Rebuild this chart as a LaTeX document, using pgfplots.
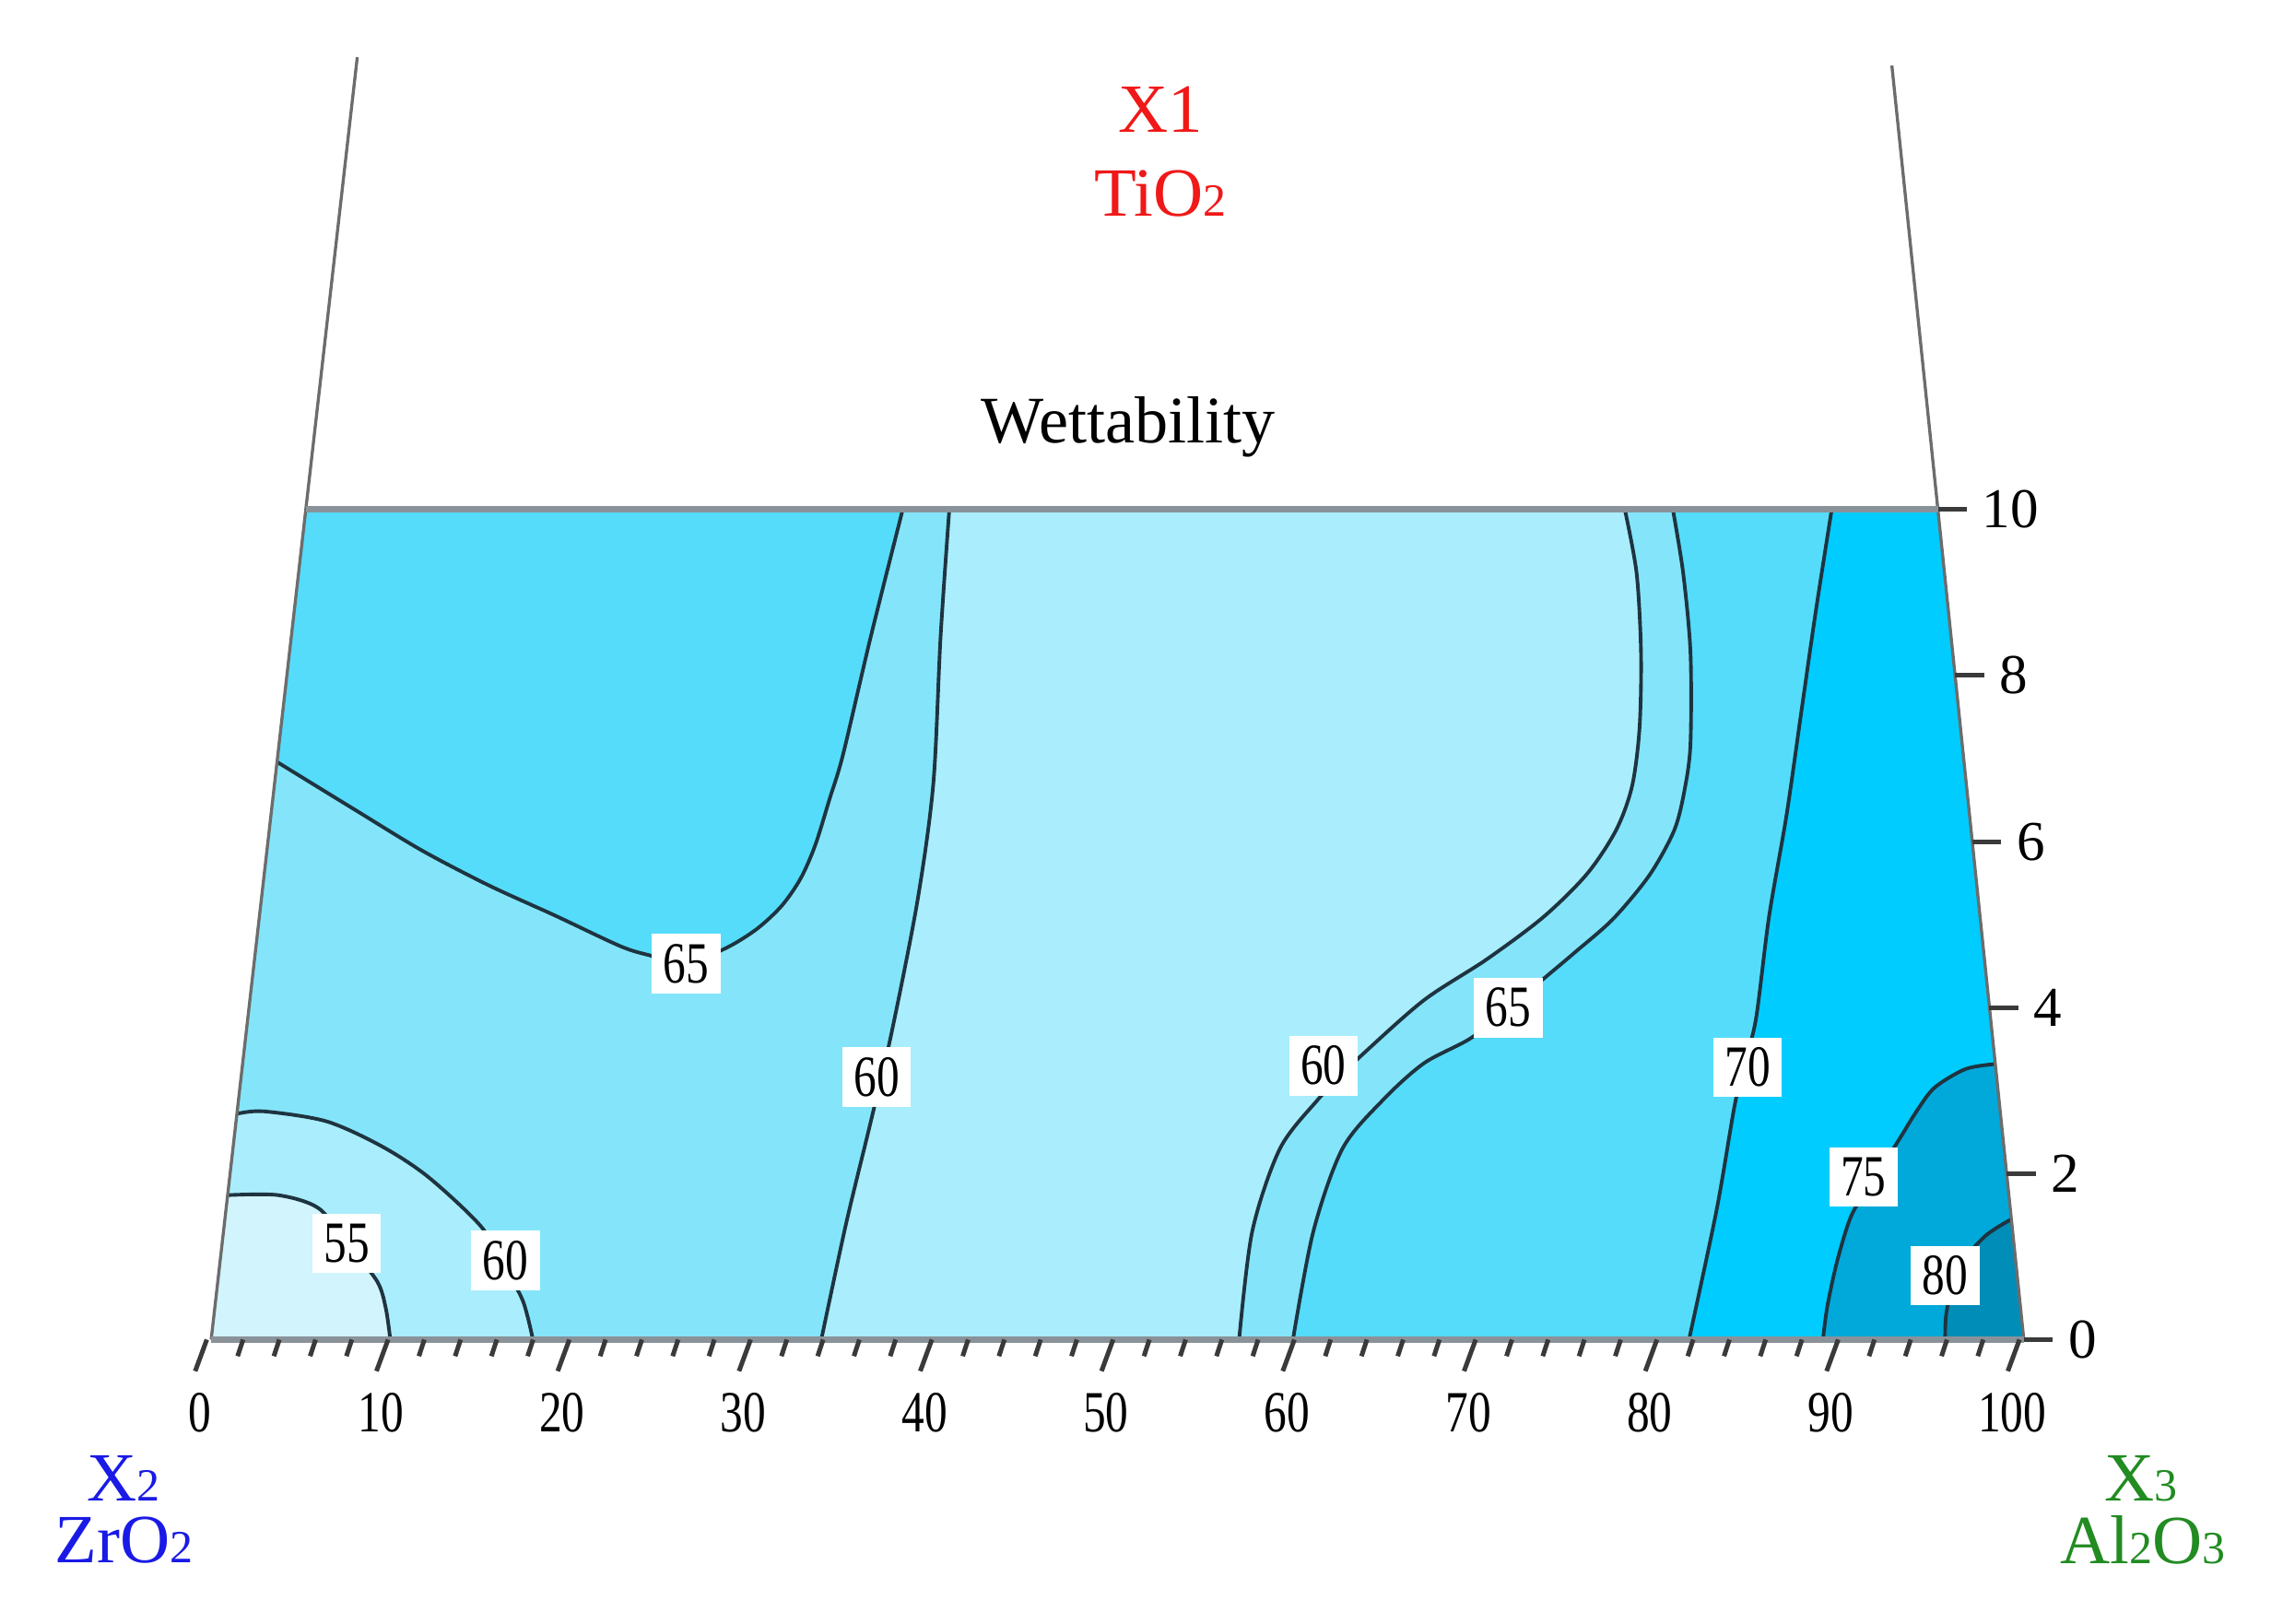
\documentclass[border=0pt]{standalone}
\usepackage{fontspec}
\setmainfont{Liberation Serif}
\newfontfamily\cond[FakeStretch=0.78]{Liberation Serif}
\usepackage{pgfplots}
\pgfplotsset{compat=1.18}

\definecolor{c50}{HTML}{D2F4FC}
\definecolor{c55}{HTML}{AAEDFC}
\definecolor{c60}{HTML}{84E5FA}
\definecolor{c65}{HTML}{55DCFB}
\definecolor{c70}{HTML}{00CCFF}
\definecolor{c75}{HTML}{00A9D9}
\definecolor{c80}{HTML}{008DB8}
\definecolor{cline}{HTML}{1E3440}
\definecolor{edge}{HTML}{8A9299}
\definecolor{tickc}{HTML}{3A3A3A}
\definecolor{xred}{HTML}{F01818}
\definecolor{xblue}{HTML}{1A1AE6}
\definecolor{xgreen}{HTML}{228B22}

\newcommand{\sub}[1]{{\fontsize{9}{9}\selectfont #1}}
\tikzset{
  lbl/.style={fill=white, inner xsep=0.8mm, inner ysep=0.7mm,
    font=\cond\fontsize{11.4}{12}\selectfont},
  rlbl/.style={anchor=west, inner sep=0pt, font=\fontsize{11}{12}\selectfont},
}

\begin{document}
\begin{tikzpicture}
\begin{axis}[
  width=15.68cm, height=11.15cm, scale only axis,
  xmin=-11.41, xmax=114.54, ymin=-3.42, ymax=16.14,
  enlargelimits=false, clip=false,
  axis line style={draw=none}, ticks=none,
  isoline/.style={draw=cline, line width=0.7pt, smooth, tension=0.5},
  zone/.style={draw=none, fill=#1},
]
% filled bands
\addplot[zone=c60] coordinates {(0.24,0) (5.46,10) (95.5,10) (100.24,0)};
\addplot[zone=c65] coordinates {
  (3.87,6.96) (5.46,10) (38.39,10) (36.63,8.47) (35.10,7.05) (34.38,6.53)
  (33.57,5.96) (32.77,5.56) (31.73,5.23) (30.36,4.95) (28.67,4.72)
  (26.43,4.53) (24.42,4.63) (22.81,4.74)
  (19.20,5.11) (15.58,5.47) (11.89,5.89) (8.27,6.37)};
\addplot[zone=c55] coordinates {
  (0.24,0) (1.66,2.72) (3.13,2.75) (6.59,2.63) (9.64,2.33) (12.21,1.96)
  (15.10,1.37) (16.3,0.92) (17.43,0.47) (17.99,0)};
\addplot[zone=c50] coordinates {
  (0.24,0) (1.15,1.74) (3.94,1.74) (6.18,1.58) (7.8,1.14) (9.40,0.70)
  (9.88,0.37) (10.12,0)};
\addplot[zone=c55] coordinates {
  (40.96,10) (40.48,8.47) (40.08,6.70) (39.20,5.28) (37.75,3.67)
  (36.6,2.60) (35.26,1.39) (33.90,0)
  (56.95,0) (57.67,1.30) (59.20,2.30) (61.29,2.89) (62.5,3.16) (63.78,3.44)
  (67.15,4.09) (70.60,4.58) (73.73,5.09) (76.14,5.61) (77.75,6.14) (78.63,6.67)
  (79.04,7.37) (79.12,8.28) (78.88,9.23) (78.23,10)};
\addplot[zone=c65] coordinates {
  (80.88,10) (81.45,9.23) (81.85,8.28) (81.85,7.18) (81.53,6.63) (80.96,6.14)
  (79.60,5.60) (77.59,5.07) (75.50,4.67) (73.98,4.39) (71.85,4.0) (69.72,3.63)
  (67.15,3.33) (64.90,2.89) (62.65,2.30) (61.04,1.30) (59.92,0)
  (100.24,0) (95.5,10)};
\addplot[zone=c70] coordinates {
  (89.64,10) (88.76,8.77) (87.95,7.54) (87.15,6.32) (86.18,5.09) (85.46,3.86)
  (84.78,3.29) (84.26,2.79) (83.29,1.56) (81.77,0) (100.24,0) (95.5,10)};
\addplot[zone=c75] coordinates {
  (98.67,3.32) (97.03,3.26) (95.34,3.04) (94.38,2.77) (93.33,2.40) (92.05,1.96)
  (90.76,1.51) (89.96,0.96) (89.40,0.40) (89.16,0) (100.24,0)};
\addplot[zone=c80] coordinates {
  (99.55,1.45) (98.07,1.24) (96.6,0.85) (95.98,0.34) (95.9,0) (100.24,0)};

% contour lines
\addplot[isoline] coordinates {(1.15,1.74) (3.94,1.74) (6.18,1.58) (7.8,1.14) (9.40,0.70) (9.88,0.37) (10.12,0)};
\addplot[isoline] coordinates {(1.66,2.72) (3.13,2.75) (6.59,2.63) (9.64,2.33) (12.21,1.96) (15.10,1.37) (16.3,0.92) (17.43,0.47) (17.99,0)};
\addplot[isoline] coordinates {(3.87,6.96) (8.27,6.37) (11.89,5.89) (15.58,5.47) (19.20,5.11) (22.81,4.74) (24.42,4.63) (26.43,4.53) (28.67,4.72) (30.36,4.95) (31.73,5.23) (32.77,5.56) (33.57,5.96) (34.38,6.53) (35.10,7.05) (36.63,8.47) (38.39,10)};
\addplot[isoline] coordinates {(40.96,10) (40.48,8.47) (40.08,6.70) (39.20,5.28) (37.75,3.67) (36.6,2.60) (35.26,1.39) (33.90,0)};
\addplot[isoline] coordinates {(56.95,0) (57.67,1.30) (59.20,2.30) (61.29,2.89) (62.5,3.16) (63.78,3.44) (67.15,4.09) (70.60,4.58) (73.73,5.09) (76.14,5.61) (77.75,6.14) (78.63,6.67) (79.04,7.37) (79.12,8.28) (78.88,9.23) (78.23,10)};
\addplot[isoline] coordinates {(59.92,0) (61.04,1.30) (62.65,2.30) (64.90,2.89) (67.15,3.33) (69.72,3.63) (71.85,4.0) (73.98,4.39) (75.50,4.67) (77.59,5.07) (79.60,5.60) (80.96,6.14) (81.53,6.63) (81.85,7.18) (81.85,8.28) (81.45,9.23) (80.88,10)};
\addplot[isoline] coordinates {(81.77,0) (83.29,1.56) (84.26,2.79) (84.78,3.29) (85.46,3.86) (86.18,5.09) (87.15,6.32) (87.95,7.54) (88.76,8.77) (89.64,10)};
\addplot[isoline] coordinates {(98.67,3.32) (97.03,3.26) (95.34,3.04) (94.38,2.77) (93.33,2.40) (92.05,1.96) (90.76,1.51) (89.96,0.96) (89.40,0.40) (89.16,0)};
\addplot[isoline] coordinates {(99.55,1.45) (98.07,1.24) (96.6,0.85) (95.98,0.34) (95.9,0)};

% simplex edges
\addplot[draw=gray!85!black, line width=0.6pt] coordinates {(8.3,15.45) (5.46,10) (0.24,0)};
\addplot[draw=gray!85!black, line width=0.6pt] coordinates {(92.96,15.35) (95.5,10) (100.24,0)};
\addplot[draw=edge, line width=1.3pt] coordinates {(5.46,10) (95.5,10)};
\addplot[draw=edge, line width=1.3pt] coordinates {(0.24,0) (100.24,0)};

% ticks on the X3 scale
\addplot[quiver={u=-0.64, v=-0.38}, draw=tickc, line width=0.9pt] coordinates {
  (0,0) (10,0) (20,0) (30,0) (40,0) (50,0) (60,0) (70,0) (80,0) (90,0) (100,0)};
\addplot[quiver={u=-0.3, v=-0.2}, draw=tickc, line width=0.9pt] coordinates {
  (2,0) (4,0) (6,0) (8,0) (12,0) (14,0) (16,0) (18,0) (22,0) (24,0) (26,0) (28,0)
  (32,0) (34,0) (36,0) (38,0) (42,0) (44,0) (46,0) (48,0) (52,0) (54,0) (56,0) (58,0)
  (62,0) (64,0) (66,0) (68,0) (72,0) (74,0) (76,0) (78,0) (82,0) (84,0) (86,0) (88,0)
  (92,0) (94,0) (96,0) (98,0)};
% ticks on the X1 scale
\addplot[quiver={u=1.6, v=0}, draw=tickc, line width=0.9pt] coordinates {
  (100.24,0) (99.29,2) (98.34,4) (97.40,6) (96.45,8) (95.50,10)};

\pgfplotsinvokeforeach{0,10,...,100}{
  \node[font=\cond\fontsize{11.4}{12}\selectfont, xshift=-0.5mm, yshift=-5mm] at (axis cs:#1,0) {#1};
}
\node[rlbl] at (axis cs:102.64,0) {0};
\node[rlbl] at (axis cs:101.69,2) {2};
\node[rlbl] at (axis cs:100.74,4) {4};
\node[rlbl] at (axis cs:99.80,6) {6};
\node[rlbl] at (axis cs:98.85,8) {8};
\node[rlbl] at (axis cs:97.90,10) {10};

% contour labels
\node[lbl] at (axis cs:7.71,1.16) {55};
\node[lbl] at (axis cs:16.47,0.95) {60};
\node[lbl] at (axis cs:26.45,4.53) {65};
\node[lbl] at (axis cs:36.95,3.16) {60};
\node[lbl] at (axis cs:61.6,3.30) {60};
\node[lbl] at (axis cs:71.81,4.0) {65};
\node[lbl] at (axis cs:85.0,3.28) {70};
\node[lbl] at (axis cs:91.4,1.96) {75};
\node[lbl] at (axis cs:95.9,0.77) {80};

% titles and component names
\node[font=\fontsize{13}{14}\selectfont] at (axis cs:50.84,11.0) {Wettability};
\node[text=xred, font=\fontsize{13.5}{15}\selectfont] at (axis cs:52.61,14.82) {X1};
\node[text=xred, font=\fontsize{13.5}{15}\selectfont] at (axis cs:52.61,13.81) {TiO\sub{2}};
\node[text=xblue, font=\fontsize{13.5}{15}\selectfont] at (axis cs:-4.58,-1.67) {X\sub{2}};
\node[text=xblue, font=\fontsize{13.5}{15}\selectfont] at (axis cs:-4.58,-2.42) {ZrO\sub{2}};
\node[text=xgreen, font=\fontsize{13.5}{15}\selectfont] at (axis cs:106.7,-1.67) {X\sub{3}};
\node[text=xgreen, font=\fontsize{13.5}{15}\selectfont] at (axis cs:106.8,-2.42) {Al\sub{2}O\sub{3}};
\end{axis}
\end{tikzpicture}
\end{document}
